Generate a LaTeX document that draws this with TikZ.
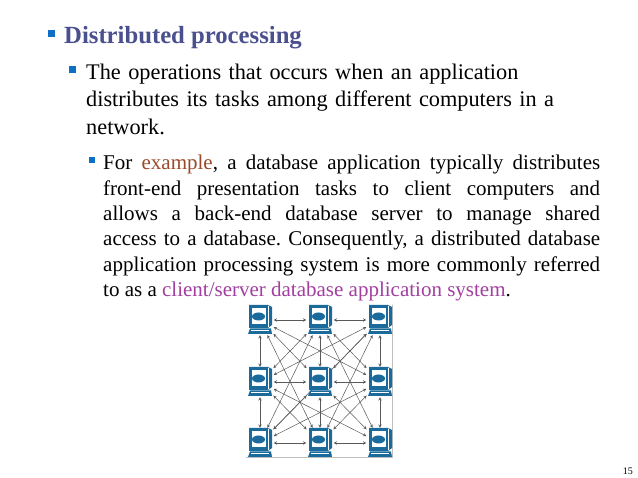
\documentclass[tikz,border=0pt]{standalone}
\usepackage{fontspec}
\setmainfont{Liberation Serif}
\usetikzlibrary{positioning}
\definecolor{titleblue}{HTML}{4A4F8E}
\definecolor{bulletblue}{HTML}{0F6FC6}
\definecolor{pcblue}{HTML}{1B6A9C}
\definecolor{examplebrown}{HTML}{9A4A28}
\definecolor{termpurple}{HTML}{A23FA0}
\tikzset{
	bullet/.style={fill=bulletblue,inner sep=0pt,minimum size=7pt},
	para/.style={anchor=north west,inner sep=0pt,align=justify},
	pc/.style={inner sep=0pt,minimum width=25pt,minimum height=28pt},
	link/.style={<->,draw=black!65,line width=.5pt,shorten <=1pt,shorten >=1pt},
	pcdraw/.pic={
		\fill[pcblue] (-11,-15) -- (8,-15) -- (12,-13) -- (12,5) -- (8,8) -- (-11,8) -- cycle;
		\fill[white] (-8.5,-12) rectangle (5.5,4.5);
		\fill[pcblue] (-1.5,-3.5) ellipse (6.5 and 4);
		\draw[white,line width=.5pt] (8,-14) -- (8,7);
		\fill[pcblue] (-10,8.5) -- (11,8.5) -- (12,14) -- (-12,14) -- cycle;
		\fill[white] (-9,10.5) rectangle (9,11.2);
	}
}
\frenchspacing
\begin{document}
\begin{tikzpicture}[x=1pt,y=-1pt,>=stealth,line join=round,line cap=round]
	\useasboundingbox (0,0) rectangle (638,478);
	\fill[white] (0,0) rectangle (638,478);
	% text
	\node[bullet] (b1) at (51.5,34) {};
	\node[anchor=base west,inner sep=0pt,text=titleblue,font=\fontsize{24.7}{28}\selectfont\bfseries] (title) at (64,44) {Distributed processing};
	\node[bullet] (b2) at (72,70) {};
	\node[para,align=left,text width=530pt,font=\fontsize{22.3}{27.5}\selectfont] (first) at (86,63.5) {The operations that occurs when an application\\distributes its tasks among different computers in a\\network.};
	\node[bullet,minimum size=6pt] (b3) at (92,160) {};
	\node[para,text width=497pt,font=\fontsize{21}{25.4}\selectfont] (second) at (103,155) {For \textcolor{examplebrown}{example}, a database application typically distributes\linebreak front-end presentation tasks to client computers and\linebreak allows a back-end database server to manage shared\linebreak access to a database. Consequently, a distributed database\linebreak application processing system is more commonly referred\linebreak to as a \textcolor{termpurple}{client/server database application system}.};
	\node[anchor=base east,inner sep=0pt,font=\fontsize{10}{12}\selectfont] (page) at (633,475) {15};
	% network
	\draw[black!25,line width=.6pt] (392,305) -- (392,457) -- (246,457);
	\foreach \name/\px/\py in {c11/260/320,c12/320/320,c13/380/320,c21/260/382,c22/320/382,c23/380/382,c31/260/443,c32/320/443,c33/380/443}{
		\node[pc] (\name) at (\px,\py) {};
	}
	\foreach \from/\to in {c11/c12,c12/c13,c21/c22,c22/c23,c31/c32,c32/c33,c11/c21,c21/c31,c12/c22,c22/c32,c13/c23,c23/c33,
		c11/c22,c11/c23,c11/c32,c12/c21,c12/c23,c12/c31,c12/c33,c13/c22,c13/c21,c13/c32,c13/c31,
		c21/c32,c21/c33,c22/c31,c22/c33,c23/c32,c23/c31}{
		\draw[link] (\from) -- (\to);
	}
	\foreach \px/\py in {260/320,320/320,380/320,260/382,320/382,380/382,260/443,320/443,380/443}{
		\pic at (\px,\py) {pcdraw};
	}
\end{tikzpicture}
\end{document}
